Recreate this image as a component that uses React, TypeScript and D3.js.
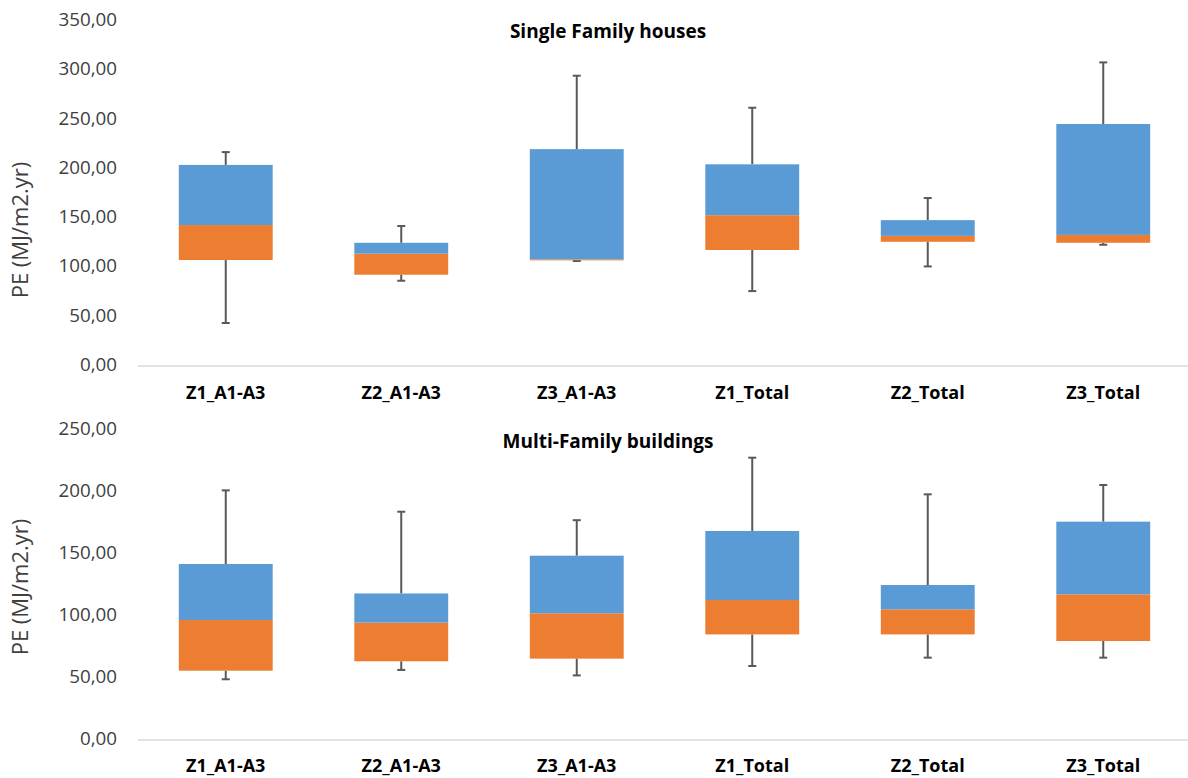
import React, { useEffect } from "react";
import * as d3 from "d3";

const categories = ["Z1_A1-A3", "Z2_A1-A3", "Z3_A1-A3", "Z1_Total", "Z2_Total", "Z3_Total"];

// Single Family houses
const sfMin = [43.6, 86.5, 106.5, 76, 101, 123];
const sfQ1 = [107.5, 92.6, 107.2, 117.7, 126, 125];
const sfMedian = [143, 114, 108.2, 153, 132, 133];
const sfQ3 = [204, 125, 220, 204.6, 148, 245.5];
const sfMax = [217, 142, 294.5, 262, 170.4, 308];
const sfTicks = [0, 50, 100, 150, 200, 250, 300, 350];

// Multi-Family buildings
const mfMin = [48.9, 56.4, 52, 59.6, 66.3, 66.3];
const mfQ1 = [55.8, 63.4, 65.5, 85, 85, 79.7];
const mfMedian = [96.6, 94.5, 102, 112.7, 105.2, 117.3];
const mfQ3 = [141.7, 118, 148.4, 168.3, 124.8, 175.8];
const mfMax = [201, 183.8, 177, 227.3, 197.8, 205.3];
const mfTicks = [0, 50, 100, 150, 200, 250];

const BLUE = "#5B9BD5";
const ORANGE = "#ED7D31";
const WHISKER = "#595959";
const AXIS = "#D9D9D9";
const TEXT = "#404040";
const FONT = "'Open Sans', 'Noto Sans', sans-serif";

type PanelProps = {
  title: string;
  titleY: number;
  yMax: number;
  yRange: [number, number];
  ticks: number[];
  mins: number[];
  q1: number[];
  med: number[];
  q3: number[];
  maxs: number[];
  labelY: number;
  axisTitleY: number;
};

const fmt = (v: number) => v.toFixed(2).replace(".", ",");

function Panel(p: PanelProps) {
  const x = d3.scaleBand<string>().domain(categories).range([138, 1191]).padding(0);
  const y = d3.scaleLinear().domain([0, p.yMax]).range(p.yRange);
  const bw = x.bandwidth() * 0.535;
  const cap = 8;
  return (
    <g>
      <text x={608} y={p.titleY} textAnchor="middle" dominantBaseline="middle" fontFamily={FONT} fontWeight="bold" fontSize={19} fill="#000">
        {p.title}
      </text>
      {p.ticks.map((t) => (
        <text key={t} x={117} y={y(t)} textAnchor="end" dominantBaseline="middle" fontFamily={FONT} fontSize={18.8} fill={TEXT}>
          {fmt(t)}
        </text>
      ))}
      <text
        transform={`translate(22,${p.axisTitleY}) rotate(-90)`}
        textAnchor="middle"
        dominantBaseline="middle"
        fontFamily={FONT}
        fontSize={22}
        fill={TEXT}
      >
        PE (MJ/m2.yr)
      </text>
      <line x1={138} x2={1191} y1={y(0)} y2={y(0)} stroke={AXIS} strokeWidth={1.5} />
      {categories.map((c, i) => {
        const cx = (x(c) as number) + x.bandwidth() / 2;
        return (
          <g key={c}>
            <line x1={cx} x2={cx} y1={y(p.q3[i])} y2={y(p.maxs[i])} stroke={WHISKER} strokeWidth={2} />
            <line x1={cx - cap / 2} x2={cx + cap / 2} y1={y(p.maxs[i])} y2={y(p.maxs[i])} stroke={WHISKER} strokeWidth={2} />
            <line x1={cx} x2={cx} y1={y(p.q1[i])} y2={y(p.mins[i])} stroke={WHISKER} strokeWidth={2} />
            <line x1={cx - cap / 2} x2={cx + cap / 2} y1={y(p.mins[i])} y2={y(p.mins[i])} stroke={WHISKER} strokeWidth={2} />
            <rect x={cx - bw / 2} width={bw} y={y(p.med[i])} height={y(p.q1[i]) - y(p.med[i])} fill={ORANGE} />
            <rect x={cx - bw / 2} width={bw} y={y(p.q3[i])} height={y(p.med[i]) - y(p.q3[i])} fill={BLUE} />
            <text x={cx} y={p.labelY} textAnchor="middle" dominantBaseline="middle" fontFamily={FONT} fontWeight="bold" fontSize={18} fill="#000">
              {c}
            </text>
          </g>
        );
      })}
    </g>
  );
}

export default function App() {
  useEffect(() => {
    document.body.style.margin = "0";
  }, []);
  return (
    <svg width={1188} height={778} style={{ display: "block", background: "#fff" }}>
      <rect width={1188} height={778} fill="#fff" />
      <Panel
        title="Single Family houses"
        titleY={33}
        yMax={350}
        yRange={[366, 21]}
        ticks={sfTicks}
        mins={sfMin}
        q1={sfQ1}
        med={sfMedian}
        q3={sfQ3}
        maxs={sfMax}
        labelY={394}
        axisTitleY={230}
      />
      <Panel
        title="Multi-Family buildings"
        titleY={443}
        yMax={250}
        yRange={[740, 429.5]}
        ticks={mfTicks}
        mins={mfMin}
        q1={mfQ1}
        med={mfMedian}
        q3={mfQ3}
        maxs={mfMax}
        labelY={767}
        axisTitleY={587}
      />
    </svg>
  );
}
